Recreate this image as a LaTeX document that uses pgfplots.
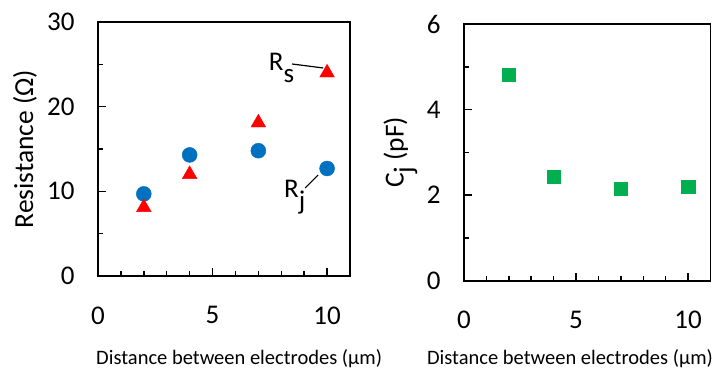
\documentclass[border=0pt]{standalone}
\usepackage{fontspec}
\setmainfont{Carlito}
\usepackage{pgfplots}
\pgfplotsset{compat=1.18}
\definecolor{rblue}{HTML}{0070C0}
\definecolor{rred}{HTML}{FF0000}
\definecolor{rgreen}{HTML}{00B050}
\begin{document}
\begin{tikzpicture}
\path (0pt,0pt) rectangle (721pt,371pt);
\pgfplotsset{
  every axis/.append style={
    scale only axis,
    axis line style={line width=1.8pt},
    every tick/.style={black,line width=1.5pt},
    tick align=inside,
    xtick pos=bottom, ytick pos=left,
    major tick length=8pt, minor tick length=5pt,
    tick label style={font=\fontsize{27}{31}\selectfont},
    /pgf/number format/assume math mode=true,
    xticklabel style={yshift=-27pt},
    yticklabel style={xshift=-20pt},
    xmin=0, xmax=11,
    xtick={0,5,10}, minor xtick={1,2,3,4,6,7,8,9},
    label style={font=\fontsize{27.5}{31}\selectfont},
    xlabel style={font=\fontsize{20.5}{24}\selectfont, anchor=center},
    clip=false,
  }
}
\begin{axis}[
  at={(98pt,95pt)}, anchor=south west,
  width=252pt, height=254pt,
  ymin=0, ymax=30,
  ytick={0,10,20,30}, minor ytick={5,15,25},
  ylabel={Resistance (Ω)},
  ylabel style={at={(axis description cs:-0.29,0.5)}, anchor=center},
  xlabel={Distance between electrodes (µm)},
  xlabel style={at={(axis description cs:0.56,-0.327)}},
]
\addplot[only marks, mark=*, mark size=7.5pt, color=rblue, mark options={draw=rblue, fill=rblue}]
  coordinates {(2,9.7) (4,14.3) (7,14.8) (10,12.7)};
\addplot[only marks, mark=triangle*, mark size=8.5pt, color=rred, mark options={draw=rred, fill=rred}]
  coordinates {(2,8.1) (4,12.0) (7,18.1) (10,24.0)};
\draw[line width=1.2pt] (axis cs:8.47,25.04) -- (axis cs:9.83,24.57);
\draw[line width=1.2pt] (axis cs:9.04,10.39) -- (axis cs:9.61,11.93);
\node[anchor=base west, inner sep=0pt, font=\fontsize{27}{31}\selectfont] at (axis cs:7.45,24.33) {R\raisebox{-12pt}{s}};
\node[anchor=base west, inner sep=0pt, font=\fontsize{27}{31}\selectfont] at (axis cs:8.12,9.33) {R\raisebox{-12pt}{j}};
\end{axis}
\begin{axis}[
  at={(464pt,90.3pt)}, anchor=south west,
  width=246.5pt, height=256.7pt,
  ymin=0, ymax=6,
  ytick={0,2,4,6}, minor ytick={1,3,5},
  xlabel={Distance between electrodes (µm)},
  xlabel style={at={(axis description cs:0.43,-0.305)}},
]
\addplot[only marks, mark=square*, mark size=6.75pt, color=rgreen, mark options={draw=rgreen, fill=rgreen}]
  coordinates {(2,4.81) (4,2.43) (7,2.15) (10,2.2)};
\node[rotate=90, anchor=center, inner sep=0pt, font=\fontsize{27.5}{31}\selectfont] at (axis description cs:-0.258,0.5) {C\raisebox{-9pt}{j} (pF)};
\end{axis}
\end{tikzpicture}
\end{document}
